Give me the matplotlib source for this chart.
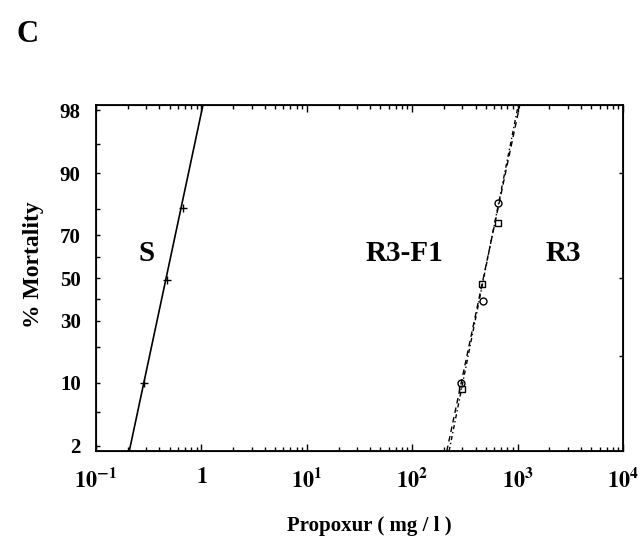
import numpy as np
import matplotlib
matplotlib.use("Agg")
import matplotlib.pyplot as plt
from matplotlib.ticker import FixedLocator, NullFormatter, FixedFormatter
from statistics import NormalDist

plt.rcParams['font.family'] = ['Liberation Serif', 'DejaVu Serif']
plt.rcParams['mathtext.fontset'] = 'stix'

# ---- data ----
# S strain (fitted line and observed points)
s_line_x = [0.207, 1.035]
s_line_y = [1.7, 98.3]
s_pts_x = [0.285, 0.472, 0.668]
s_pts_y = [10, 49, 80.5]

# R3-F1 (circles) and R3 (squares)
r3f1_line_x = [213, 1050]
r3f1_line_y = [1.7, 98.3]
r3f1_pts_x = [290, 470, 655]
r3f1_pts_y = [10, 39, 82]

r3_line_x = [224, 1015]
r3_line_y = [1.7, 98.3]
r3_pts_x = [297, 459, 652]
r3_pts_y = [8.7, 47, 75]

y_major = [2, 10, 30, 50, 70, 90, 98]
y_minor = [5, 20, 40, 60, 80, 95]
y_right = [17, 50, 90]
x_major = [0.1, 1, 10, 100, 1000, 10000]
x_labels = [r'$\mathbf{10^{-1}}$', r'$\mathbf{1}$', r'$\mathbf{10^{1}}$',
            r'$\mathbf{10^{2}}$', r'$\mathbf{10^{3}}$', r'$\mathbf{10^{4}}$']

_nd = NormalDist()
_vf = np.vectorize(lambda v: _nd.inv_cdf(v / 100.0), otypes=[float])
_vi = np.vectorize(lambda v: _nd.cdf(v) * 100.0, otypes=[float])
def _fwd(p):
    p = np.clip(np.asarray(p, dtype=float), 1e-6, 100 - 1e-6)
    return _vf(p)
def _inv(z):
    z = np.asarray(z, dtype=float)
    return _vi(z)

fig = plt.figure(figsize=(6.42, 5.45), dpi=100)
ax = fig.add_axes([96/642, 1 - 451/545, (623-96)/642, (451-105)/545])
ax.set_xscale('log')
ax.set_yscale('function', functions=(_fwd, _inv))
ax.set_xlim(0.1, 10000)
ax.set_ylim(1.7, 98.3)

ax.plot(s_line_x, s_line_y, color='black', lw=1.2)
ax.plot(s_pts_x, s_pts_y, ls='none', marker='+', color='black', ms=6, mew=1)

ax.plot(r3f1_line_x, r3f1_line_y, color='black', lw=1.0, ls=(0, (4, 3)))
ax.plot(r3_line_x, r3_line_y, color='black', lw=1.0, ls=(0, (3, 2, 1, 2)))
ax.plot(r3f1_pts_x, r3f1_pts_y, ls='none', marker='o', mfc='none', mec='black', ms=5, mew=1)
ax.plot(r3_pts_x, r3_pts_y, ls='none', marker='s', mfc='none', mec='black', ms=5, mew=1)

# ticks
ax.yaxis.set_major_locator(FixedLocator(y_major))
ax.yaxis.set_minor_locator(FixedLocator(y_minor))
ax.yaxis.set_major_formatter(FixedFormatter([str(v) for v in y_major]))
ax.yaxis.set_minor_formatter(NullFormatter())
ax.xaxis.set_major_locator(FixedLocator(x_major))
ax.xaxis.set_major_formatter(FixedFormatter(x_labels))
ax.xaxis.set_minor_locator(matplotlib.ticker.LogLocator(base=10, subs=np.arange(2, 10)))
ax.xaxis.set_minor_formatter(NullFormatter())

ax.tick_params(axis='x', which='both', direction='in', top=True, bottom=True)
ax.tick_params(axis='x', which='major', length=5, width=1, pad=12, labelsize=16)
ax.tick_params(axis='x', which='minor', length=3, width=1)
ax.tick_params(axis='y', which='both', direction='in', left=True, right=False)
ax.tick_params(axis='y', which='major', length=3, width=1, pad=11, labelsize=15)
ax.tick_params(axis='y', which='minor', length=3, width=1)
for lab in ax.get_yticklabels():
    lab.set_fontweight('bold')

axr = ax.twinx()
axr.set_yscale('function', functions=(_fwd, _inv))
axr.set_ylim(1.7, 98.3)
axr.yaxis.set_major_locator(FixedLocator(y_right))
axr.yaxis.set_minor_locator(FixedLocator([]))
axr.yaxis.set_major_formatter(NullFormatter())
axr.tick_params(axis='y', which='both', direction='in', length=3, width=1)

for sp in ax.spines.values():
    sp.set_linewidth(1.3)

# annotations
ax.text(0.305, 62, 'S', fontsize=21, fontweight='bold', ha='center', va='center')
ax.text(85, 62, 'R3-F1', fontsize=21, fontweight='bold', ha='center', va='center')
ax.text(2700, 62, 'R3', fontsize=21, fontweight='bold', ha='center', va='center')

fig.text(28/642, 1 - 34/545, 'C', fontsize=22, fontweight='bold', ha='center', va='center')
fig.text(33/642, 1 - 265/545, '% Mortality', fontsize=17, fontweight='bold',
         rotation=90, ha='center', va='center')
fig.text(369/642, 1 - 526/545, 'Propoxur ( mg / l )', fontsize=15, fontweight='bold',
         ha='center', va='center')

fig.savefig('out.png', dpi=100)
